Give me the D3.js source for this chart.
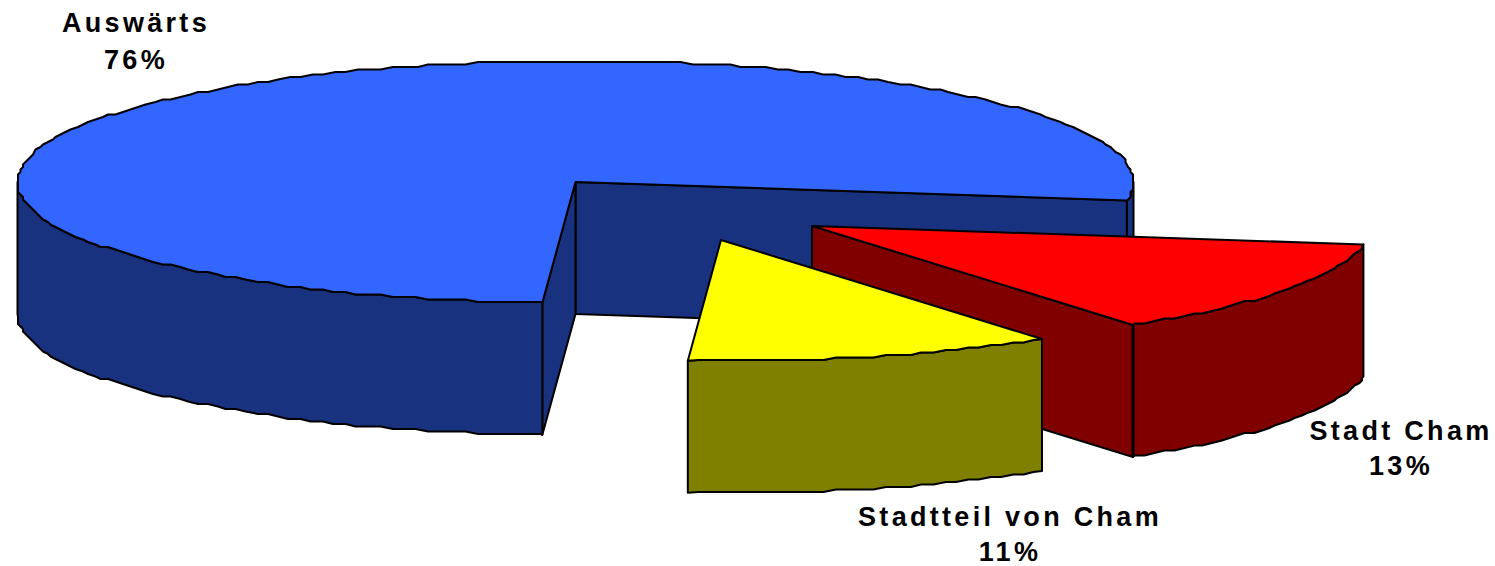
<!DOCTYPE html>
<html><head><meta charset="utf-8">
<script src="https://cdn.jsdelivr.net/npm/d3@7"></script>
<style>html,body{margin:0;padding:0;background:#fff;overflow:hidden}svg{display:block}</style>
</head><body><svg id="c" width="1495" height="566"></svg>
<script>
// Data, clockwise from the red slice
const categories = ["Stadt Cham", "Stadtteil von Cham", "Auswärts"];
const shares = [0.128, 0.107, 0.7649];
const topColors = ["#ff0000", "#ffff00", "#3366ff"];
const sideColors = ["#800000", "#808000", "#19327f"];

// Layout
const rx = 558, ry = 121, depth = 132, rag = 2.5, step = 1.3;
const firstAngle = 8.8;
const centers = { "Auswärts": [575.5, 182], "Stadt Cham": [812, 226], "Stadtteil von Cham": [721, 240] };
const labelPos = { "Auswärts": [136, 32, 69], "Stadt Cham": [1401, 440, 475], "Stadtteil von Cham": [1010, 526, 561] };
const drawOrder = ["Auswärts", "Stadt Cham", "Stadtteil von Cham"];

const svg = d3.select("#c");
const rad = Math.PI / 180;
const pie = d3.pie().sort(null).value(d => d.share)
  .startAngle((firstAngle + 90) * rad).endAngle((firstAngle + 450) * rad);
const slices = pie(categories.map((name, i) => ({ name, share: shares[i], top: topColors[i], side: sideColors[i] })));
const toDeg = a => a / rad - 90;
const fmt = d3.format(".0%");
const line = d3.line();

slices.forEach(s => {
  s.from = toDeg(s.startAngle); s.to = toDeg(s.endAngle);
  const [cx, cy] = centers[s.data.name];
  s.x = d3.scaleLinear().domain([-1, 1]).range([cx - rx, cx + rx]);
  s.y = d3.scaleLinear().domain([-1, 1]).range([cy - ry, cy + ry]);
  s.cx = cx; s.cy = cy;
});

// Arc outline with the coarse, faceted edge of the original renderer.
// Inner samples sit on a shared angle grid so top and side faces coincide.
function arcPts(s, a0, a1, dy) {
  const grid = d3.range(Math.ceil(a0 / step + 1e-6) * step, a1 - 1e-6, step);
  const pt = (deg, snap) => {
    const a = deg * rad;
    let px = s.x(Math.cos(a)), py = s.y(Math.sin(a));
    if (snap) {
      px = s.cx + Math.round((px - s.cx) / rag) * rag;
      py = s.cy + Math.round((py - s.cy) / rag) * rag;
    }
    return [px, py + dy];
  };
  return [pt(a0, false)].concat(grid.map(d => pt(d, true)), [pt(a1, false)]);
}
function poly(pts, fill, sw) {
  svg.append("path").attr("d", line(pts) + "Z").attr("fill", fill)
    .attr("stroke", "#000").attr("stroke-width", sw || 2).attr("stroke-linejoin", "round");
}
function wall(s, ang) {
  const e = arcPts(s, ang, ang, 0)[0];
  poly([[s.cx, s.cy], e, [e[0], e[1] + depth], [s.cx, s.cy + depth]], s.data.side);
}
function outer(s, a0, a1) {
  const lo = Math.max(s.from, a0), hi = Math.min(s.to, a1);
  if (hi <= lo) return;
  poly(arcPts(s, lo, hi, 0).concat(arcPts(s, lo, hi, depth).reverse()), s.data.side);
}

drawOrder.forEach(name => {
  const s = slices.find(d => d.data.name === name);
  // a cut face shows only when its outward normal points towards the viewer
  if (Math.sin((s.to + 90) * rad) > 0) wall(s, s.to);
  if (Math.sin((s.from - 90) * rad) > 0) wall(s, s.from);
  outer(s, 0, 180);
  outer(s, 360, 540);
  if (name === "Stadt Cham") {
    const e = arcPts(s, s.to, s.to, 0)[0];
    svg.append("line").attr("x1", e[0]).attr("x2", e[0]).attr("y1", e[1]).attr("y2", e[1] + depth)
      .attr("stroke", "#000").attr("stroke-width", 3);
  }
  poly([[s.cx, s.cy]].concat(arcPts(s, s.from, s.to, 0)), s.data.top);
});

slices.forEach(s => {
  const [x, y1, y2] = labelPos[s.data.name];
  const t = svg.append("text").attr("text-anchor", "middle")
    .attr("font-family", "'Liberation Sans', Arial, sans-serif").attr("font-weight", "bold")
    .attr("font-size", 27).attr("letter-spacing", 3.3).attr("fill", "#000");
  t.append("tspan").attr("x", x).attr("y", y1).text(s.data.name);
  t.append("tspan").attr("x", x).attr("y", y2).text(fmt(s.data.share));
});
</script></body></html>
